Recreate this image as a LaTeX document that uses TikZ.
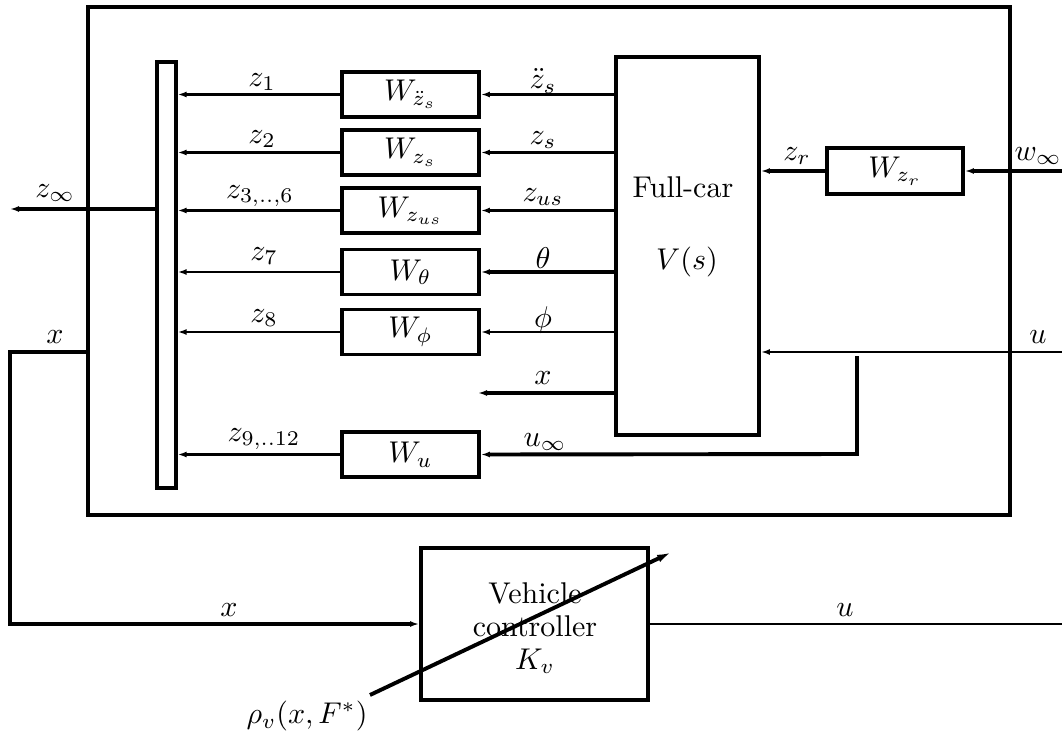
\documentclass[tikz,border=0pt]{standalone}
\usetikzlibrary{arrows.meta}
\begin{document}
\begin{tikzpicture}[x=0.3333pt,y=-0.3333pt,
  ln/.style={line width=0.9pt},
  thk/.style={line width=1.3pt},
  tip/.style={-{Latex[length=3pt,width=2pt]}},
  arr/.style={ln,tip},
  tarr/.style={thk,tip},
  blk/.style={draw,line width=1.3pt,inner sep=0pt},
  wbox/.style={blk,minimum width=45.67pt,minimum height=15pt},
  lbl/.style={inner sep=0pt}]
\useasboundingbox (0,0) rectangle (1062,736);
% outer frame
\node[blk,line width=1.1pt,minimum width=307.3pt,minimum height=169.3pt] (outer) at (549,261) {};
% collecting bar
\node[blk,line width=1.1pt,minimum width=6.33pt,minimum height=142pt] (bar) at (166.5,275) {};
% weighting boxes
\node[wbox] (W1) at (410.5,94.5) {$W_{\ddot z_s}$};
\node[wbox] (W2) at (410.5,152.5) {$W_{z_s}$};
\node[wbox] (W3) at (410.5,210.5) {$W_{z_{us}}$};
\node[wbox] (W4) at (410.5,272) {$W_{\theta}$};
\node[wbox] (W5) at (410.5,332) {$W_{\phi}$};
\node[wbox] (Wu) at (410.5,454.5) {$W_{u}$};
\node[blk,minimum width=45.33pt,minimum height=15.33pt] (Wzr) at (895,171) {$W_{z_r}$};
% full-car
\node[blk,minimum width=47.67pt,minimum height=126pt] (fc) at (687.5,246) {};
\node[lbl] (fct) at (683,187) {Full-car};
\node[lbl] (fcv) at (687,262) {$V(s)$};
% controller
\node[blk,minimum width=75.67pt,minimum height=50.67pt] (ctrl) at (534.5,624) {};
\node[lbl,align=center,font=\fontsize{10}{11}\selectfont] (ctxt) at (535,628) {Vehicle\\controller\\$K_v$};
% full-car outputs to weights
\draw[arr] (fc.west |- W1.east) -- (W1.east);
\draw[tarr] (fc.west |- W2.east) -- (W2.east);
\draw[arr] (fc.west |- W3.east) -- (W3.east);
\draw[tarr] (fc.west |- W4.east) -- (W4.east);
\draw[arr] (fc.west |- W5.east) -- (W5.east);
\coordinate (xo) at (478,393);
\draw[tarr] (fc.west |- xo) -- (xo);
% weights to bar
\draw[arr] (W1.west) -- (bar.east |- W1.west);
\draw[tarr] (W2.west) -- (bar.east |- W2.west);
\draw[arr] (W3.west) -- (bar.east |- W3.west);
\draw[arr] (W4.west) -- (bar.east |- W4.west);
\draw[arr] (W5.west) -- (bar.east |- W5.west);
\draw[arr] (Wu.west) -- (bar.east |- Wu.west);
% z_inf output
\coordinate (zinf) at (10,209);
\draw[tarr] (bar.west |- zinf) -- (zinf);
% x feedback to controller
\coordinate (xc) at (10,352);
\draw[thk,tip] (outer.west |- xc) -- (xc) |- (ctrl.west);
% u input
\coordinate (uin) at (1062,352);
\draw[arr] (uin) -- (fc.east |- uin);
\coordinate (ub) at (857,356);
\coordinate (ub2) at (857,454);
\draw[tarr] (ub) -- (ub2) -- (Wu.east);
% road disturbance
\coordinate (win) at (1062,171);
\draw[tarr] (win) -- (Wzr.east);
\draw[tarr] (Wzr.west) -- (fc.east |- Wzr.west);
% controller output
\coordinate (uout) at (1062,624);
\draw[ln] (ctrl.east) -- (uout);
% scheduling arrow
\coordinate (ps) at (370,695);
\coordinate (pe) at (672,552);
\draw[thk,-{Latex[length=5pt,width=2.6pt]}] (ps) -- (pe);
% labels
\node[lbl] (lz1) at (262,82) {$z_1$};
\node[lbl] (lz2) at (262,139) {$z_2$};
\node[lbl] (lz3) at (260,196) {$z_{3,..,6}$};
\node[lbl] (lz7) at (264,256) {$z_7$};
\node[lbl] (lz8) at (264,318) {$z_8$};
\node[lbl] (lz9) at (264,439) {$z_{9,..12}$};
\node[lbl] (lzinf) at (55,193) {$z_\infty$};
\node[lbl] (lx1) at (55,337) {$x$};
\node[lbl] (lzdd) at (543,81) {$\ddot z_s$};
\node[lbl] (lzs) at (543,140) {$z_s$};
\node[lbl] (lzus) at (543,197) {$z_{us}$};
\node[lbl] (lth) at (543,258) {$\theta$};
\node[lbl] (lph) at (543,320) {$\phi$};
\node[lbl] (lx2) at (543,378) {$x$};
\node[lbl] (luinf) at (545,442) {$u_\infty$};
\node[lbl] (lzr) at (797,156) {$z_r$};
\node[lbl] (lw) at (1038,156) {$w_\infty$};
\node[lbl] (lu1) at (1038,337) {$u$};
\node[lbl] (lx3) at (229,610) {$x$};
\node[lbl] (lu2) at (845,610) {$u$};
\node[lbl] (lrho) at (307,716) {$\rho_v(x,F^*)$};
\end{tikzpicture}
\end{document}
